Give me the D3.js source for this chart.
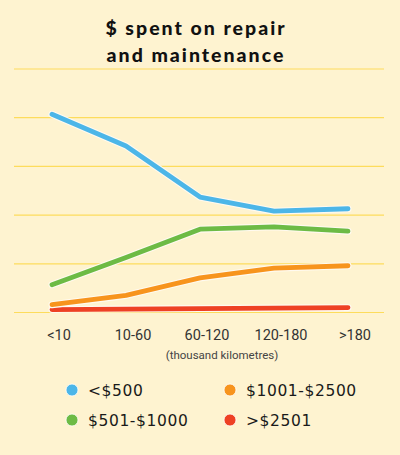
<!DOCTYPE html>
<html>
<head>
<meta charset="utf-8">
<script src="https://cdn.jsdelivr.net/npm/d3@7"></script>
<style>
  body { margin: 0; background: #fef3d0; }
  svg { display: block; }
</style>
</head>
<body>
<script>
const width = 400;
const height = 455;

// chart data
const categories = ['<10', '10-60', '60-120', '120-180', '>180'];
const seriesNames = ['<$500', '$501-$1000', '$1001-$2500', '>$2501'];
const seriesColors = ['#4cb6e8', '#6dbb45', '#f7941d', '#ee4124'];
const under500 = [40.7, 34.2, 23.7, 20.8, 21.3];
const from501 = [5.7, 11.3, 17.1, 17.6, 16.7];
const from1001 = [1.6, 3.5, 7.1, 9.1, 9.6];
const over2501 = [0.6, 0.7, 0.8, 0.9, 1.0];
const yTicks = [0, 10, 20, 30, 40, 50];

const series = [under500, from501, from1001, over2501];

const svg = d3.select('body')
  .append('svg')
  .attr('width', width)
  .attr('height', height);

svg.append('rect')
  .attr('width', width)
  .attr('height', height)
  .attr('fill', '#fef3d0');

const x = d3.scalePoint()
  .domain(categories)
  .range([52, 348]);

const y = d3.scaleLinear()
  .domain([0, 50])
  .range([312.5, 69]);

// title
const title = svg.append('text')
  .attr('x', 195)
  .attr('text-anchor', 'middle')
  .attr('font-family', 'Lato, sans-serif')
  .attr('font-weight', 900)
  .attr('font-size', 19.5)
  .attr('letter-spacing', 2)
  .attr('fill', '#111');
title.append('tspan').attr('x', 196).attr('y', 35).text('$ spent on repair');
title.append('tspan').attr('x', 196).attr('y', 62).text('and maintenance');

// gridlines
svg.append('g')
  .selectAll('line')
  .data(yTicks)
  .join('line')
  .attr('x1', 14)
  .attr('x2', 384)
  .attr('y1', d => y(d))
  .attr('y2', d => y(d))
  .attr('stroke', '#fddc5c')
  .attr('stroke-width', 1.2);

// x labels
svg.append('g')
  .selectAll('text')
  .data(categories)
  .join('text')
  .attr('x', d => x(d) + 7)
  .attr('y', 340)
  .attr('text-anchor', 'middle')
  .attr('font-family', 'Roboto, sans-serif')
  .attr('font-size', 14.5)
  .attr('fill', '#333')
  .text(d => d);

svg.append('text')
  .attr('x', 222)
  .attr('y', 359)
  .attr('text-anchor', 'middle')
  .attr('font-family', 'Roboto, sans-serif')
  .attr('font-size', 11.5)
  .attr('fill', '#444')
  .text('(thousand kilometres)');

// lines, drawn bottom series first
const line = d3.line()
  .x((d, i) => x(categories[i]))
  .y(d => y(d));

const order = [3, 2, 1, 0];
order.forEach(k => {
  svg.append('path')
    .attr('d', line(series[k]))
    .attr('fill', 'none')
    .attr('stroke', '#fffaf0')
    .attr('stroke-width', 7)
    .attr('stroke-linecap', 'round')
    .attr('stroke-linejoin', 'round');
  svg.append('path')
    .attr('d', line(series[k]))
    .attr('fill', 'none')
    .attr('stroke', seriesColors[k])
    .attr('stroke-width', 4.8)
    .attr('stroke-linecap', 'round')
    .attr('stroke-linejoin', 'round');
});

// legend
const legendPos = [[72, 390], [72, 420], [230, 390], [230, 420]];
const legend = svg.append('g')
  .selectAll('g')
  .data(seriesNames)
  .join('g')
  .attr('transform', (d, i) => `translate(${legendPos[i][0]},${legendPos[i][1]})`);

legend.append('circle')
  .attr('r', 6)
  .attr('fill', (d, i) => seriesColors[i])
  .attr('stroke', '#fff')
  .attr('stroke-width', 0.8);

legend.append('text')
  .attr('x', 16)
  .attr('y', 6)
  .attr('font-family', 'DejaVu Sans, sans-serif')
  .attr('font-size', 15.5)
  .attr('letter-spacing', 0.6)
  .attr('fill', '#1a1a1a')
  .text(d => d);
</script>
</body>
</html>
